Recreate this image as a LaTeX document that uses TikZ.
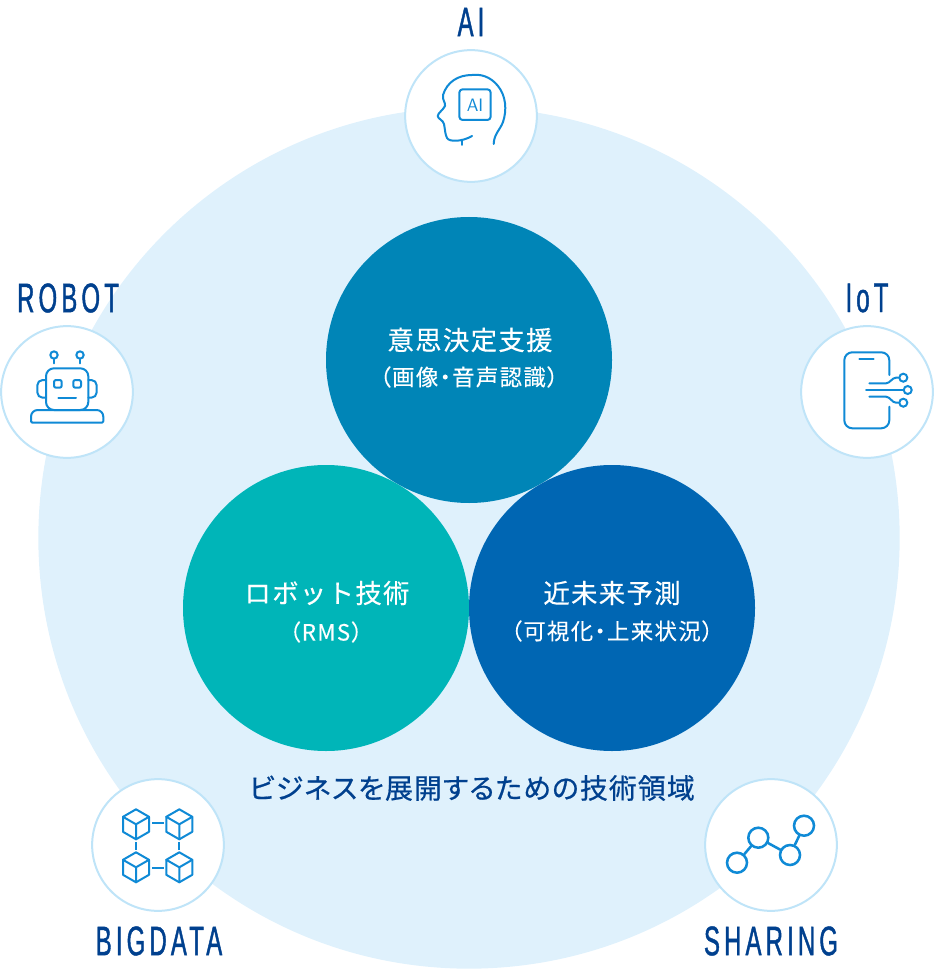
\documentclass[tikz,border=0pt]{standalone}
\usepackage{fontspec}
\usepackage{xcolor}
\setmainfont{Liberation Sans}
\newfontfamily\jpmain[LetterSpace=5,FakeBold=0.3]{Noto Sans CJK JP}
\newfontfamily\jpsub[RawFeature={+palt},LetterSpace=6,FakeBold=0.15]{Noto Sans CJK JP}
\newfontfamily\jpmedium[RawFeature={+palt},LetterSpace=4,FakeBold=0.6]{Noto Sans CJK JP}
\newfontfamily\labelfont[FakeStretch=0.58,LetterSpace=10,FakeBold=1]{Liberation Sans}
\definecolor{areablue}{HTML}{DFF1FC}
\definecolor{ringblue}{HTML}{BFE4F8}
\definecolor{iconblue}{HTML}{0F8AD6}
\definecolor{labelblue}{HTML}{00408E}
\definecolor{topblue}{HTML}{0085B7}
\definecolor{leftteal}{HTML}{00B5B8}
\definecolor{rightblue}{HTML}{0066B3}
\tikzset{
	bigdisc/.style={circle,minimum size=214.5pt,inner sep=0pt,text=white,align=center},
	ring/.style={circle,draw=ringblue,line width=1.5pt,fill=white,minimum size=98.8pt,inner sep=0pt},
	keylabel/.style={text=labelblue,inner sep=0pt,font=\labelfont\fontsize{31}{31}\selectfont},
	maintext/.style={text=white,inner sep=0pt,font=\jpmain\fontsize{19.8}{19.8}\selectfont},
	subtext/.style={text=white,inner sep=0pt,font=\jpsub\fontsize{16.8}{16.8}\selectfont},
	iconline/.style={draw=iconblue,line width=1.5pt,line cap=round,line join=round},
	linkline/.style={draw=iconblue,line width=1.5pt},
	dot/.style={circle,draw=iconblue,line width=1.5pt,inner sep=0pt,minimum size=#1},
	cubeicon/.pic={
		\draw[iconline] (0,-15) -- (13,-7.5) -- (13,7.5) -- (0,15) -- (-13,7.5) -- (-13,-7.5) -- cycle;
		\draw[iconline] (-13,-7.5) -- (0,0) -- (13,-7.5) (0,0) -- (0,15);
	}
}
\begin{document}
\begin{tikzpicture}[x=0.75pt,y=-0.75pt]
	\useasboundingbox (0,0) rectangle (936,969);
	\node[circle,fill=areablue,minimum size=646pt,inner sep=0pt] (area) at (469,538) {};
	
	\node[bigdisc,fill=topblue] (decision) at (469,360) {};
	\node[bigdisc,fill=leftteal] (robotics) at (326,608) {};
	\node[bigdisc,fill=rightblue] (forecast) at (612,608) {};
	
	\node[maintext] (decisionmain) at (470,340) {意思決定支援};
	\node[subtext] (decisionsub) at (469,377) {（画像・音声認識）};
	\node[maintext] (roboticsmain) at (327,593) {ロボット技術};
	\node[subtext] (roboticssub) at (326,632) {（RMS）};
	\node[maintext] (forecastmain) at (612,593) {近未来予測};
	\node[subtext] (forecastsub) at (612,631) {（可視化・上来状況）};
	\node[text=labelblue,inner sep=0pt,font=\jpmedium\fontsize{20.9}{20.9}\selectfont] (areatext) at (472,788) {ビジネスを展開するための技術領域};
	
	\node[ring] (ai) at (471,116) {};
	\node[ring] (robot) at (67,392) {};
	\node[ring] (iot) at (867,392) {};
	\node[ring] (bigdata) at (158,845) {};
	\node[ring] (sharing) at (771,845) {};
	
	\node[keylabel] (ailabel) at (471,22) {AI};
	\node[keylabel] (robotlabel) at (68,298) {ROBOT};
	\node[keylabel] (iotlabel) at (867,298) {IoT};
	\node[keylabel] (bigdatalabel) at (159,941) {BIGDATA};
	\node[keylabel] (sharinglabel) at (771,941) {SHARING};
	
	% head
	\draw[iconline] (493.7,144) .. controls (494,134) and (500,130) .. (503,122) .. controls (507,110) and (506,96) .. (498,86) .. controls (490,76) and (480,74) .. (472,75) .. controls (458,75) and (447,82) .. (443,95) .. controls (442,100) and (446,103) .. (445,106) .. controls (443,110) and (438,113) .. (437.7,116) .. controls (438,119) and (443,120) .. (444,124) .. controls (445,129) and (445,134) .. (447,138) .. controls (449,142) and (462,142) .. (472,136);
	\draw[iconline] (461.7,140) -- (461.7,145);
	\draw[iconline,rounded corners=2.5pt] (459.3,89.3) rectangle (490.7,120);
	\node[text=iconblue,inner sep=0pt,font=\sffamily\fontsize{13.5}{13.5}\selectfont] (aiword) at (475,105) {AI};
	
	% robot
	\node[dot=5.5pt] (antennaleft) at (54,355) {};
	\node[dot=5.5pt] (antennaright) at (80,355) {};
	\draw[iconline] (antennaleft) -- (54,363.3);
	\draw[iconline] (antennaright) -- (80,363.3);
	\draw[iconline,rounded corners=6pt] (46,368.3) rectangle (88.3,410);
	\draw[iconline,rounded corners=4pt] (46,380) -- (37.3,380) -- (37.3,397.7) -- (46,397.7);
	\draw[iconline,rounded corners=4pt] (88.3,380) -- (96.7,380) -- (96.7,397.7) -- (88.3,397.7);
	\draw[iconline,rounded corners=1.5pt] (54,380) rectangle (61.7,387.7);
	\draw[iconline,rounded corners=1.5pt] (73.3,380) rectangle (81,387.7);
	\draw[iconline] (58.3,397.7) -- (76,397.7);
	\draw[iconline] (67,422.7) [rounded corners=1pt] -- (31,422.7) [rounded corners=5pt] -- (31,410) -- (103.3,410) [rounded corners=1pt] -- (103.3,422.7) -- (67,422.7);
	
	% phone
	\draw[iconline,rounded corners=6pt] (889.3,375) -- (889.3,352.3) -- (844.3,352.3) -- (844.3,428.3) -- (889.3,428.3) -- (889.3,406.7);
	\draw[iconline] (859.3,359.3) -- (873.7,359.3);
	\node[dot=6pt] (nodetop) at (903.3,377.7) {};
	\node[dot=6pt] (nodemid) at (907.7,390) {};
	\node[dot=6pt] (nodelow) at (903.3,402.7) {};
	\draw[iconline] (869.3,383.3) -- (886,383.3) .. controls (890,383.3) and (892,377.7) .. (896,377.7) -- (nodetop);
	\draw[iconline] (866,390) -- (nodemid);
	\draw[iconline] (869.3,396.7) -- (886,396.7) .. controls (890,396.7) and (892,402.7) .. (896,402.7) -- (nodelow);
	
	% cubes
	\foreach \cx in {136,179.3} {
		\foreach \cy in {824.3,867.3} {
			\pic at (\cx,\cy) {cubeicon};
		}
		\draw[linkline] (\cx,842) -- (\cx,850);
	}
	\foreach \cy in {823.3,867.7} {
		\draw[linkline] (152,\cy) -- (164,\cy);
	}
	
	% sharing
	\node[dot=15pt,line width=1.9pt] (shareone) at (737,862.7) {};
	\node[dot=15pt,line width=1.9pt] (sharetwo) at (758.3,837.7) {};
	\node[dot=15pt,line width=1.9pt] (sharethree) at (790,855) {};
	\node[dot=15pt,line width=1.9pt] (sharefour) at (804,825.7) {};
	\draw[iconline,line width=1.9pt] (shareone) -- (sharetwo);
	\draw[iconline,line width=1.9pt] (sharetwo) -- (sharethree);
	\draw[iconline,line width=1.9pt] (sharethree) -- (sharefour);
\end{tikzpicture}
\end{document}
